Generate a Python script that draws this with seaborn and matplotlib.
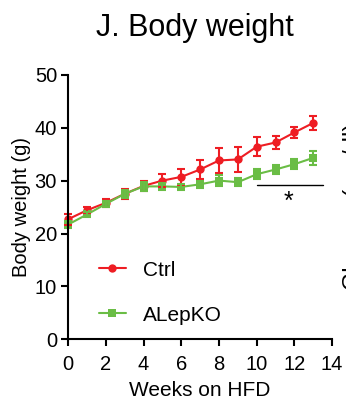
import numpy as np
import pandas as pd
import matplotlib
matplotlib.use("Agg")
import matplotlib.pyplot as plt
import seaborn as sns

# body weight (g) over 14 weeks of HFD, mean +/- sem
weeks = list(range(14))
ctrl_mean = [22.7, 24.4, 25.8, 27.5, 29.0, 30.0, 30.7, 32.1, 33.8, 34.0, 36.4, 37.2, 39.1, 40.9]
ctrl_sem = [1.0, 0.6, 0.8, 1.0, 1.0, 1.3, 1.5, 1.8, 2.3, 2.3, 1.8, 1.3, 1.0, 1.3]
ko_mean = [21.7, 23.6, 25.6, 27.5, 28.9, 28.9, 28.8, 29.3, 30.0, 29.7, 31.2, 32.1, 33.1, 34.3]
ko_sem = [0.7, 0.5, 0.6, 0.8, 0.8, 0.6, 0.6, 0.7, 1.0, 0.7, 0.9, 0.9, 1.0, 1.3]

groups = ["Ctrl", "ALepKO"]
colors = {"Ctrl": "#EE1D23", "ALepKO": "#6ABD45"}
markers = {"Ctrl": "o", "ALepKO": "s"}

df = pd.DataFrame({
    "week": weeks * 2,
    "weight": ctrl_mean + ko_mean,
    "sem": ctrl_sem + ko_sem,
    "group": ["Ctrl"] * 14 + ["ALepKO"] * 14,
})

sns.set_style("ticks")
plt.rcParams["font.family"] = ["Liberation Sans", "DejaVu Sans"]
plt.rcParams["text.color"] = "black"
plt.rcParams["axes.labelcolor"] = "black"

fig = plt.figure(figsize=(3.46, 4.04), dpi=100)
ax = fig.add_axes([0.197, 0.16, 0.763, 0.655])

sns.lineplot(data=df, x="week", y="weight", hue="group", style="group",
             palette=colors, markers=markers, dashes=False, markersize=6,
             markeredgewidth=0, linewidth=1.5, ax=ax)

for g in groups:
    sub = df[df["group"] == g]
    ax.errorbar(sub["week"], sub["weight"], yerr=sub["sem"], fmt="none",
                ecolor=colors[g], elinewidth=1.5, capsize=2.7, capthick=1.5)

# significance bar
ax.plot([10, 13.5], [29.2, 29.2], color="black", lw=1)
ax.text(11.7, 25.9, "*", ha="center", va="center", fontsize=18)

ax.set_xlim(0, 14)
ax.set_ylim(0, 50)
ax.set_xticks(range(0, 15, 2))
ax.set_yticks(range(0, 51, 10))
ax.tick_params(labelsize=14.5, width=1.5, length=5, pad=3,
               color="black", labelcolor="black")
ax.tick_params(axis="x", pad=6)
for s in ["left", "bottom"]:
    ax.spines[s].set_linewidth(1.5)
    ax.spines[s].set_color("black")
sns.despine(ax=ax)
ax.set_xlabel("Weeks on HFD", fontsize=15, labelpad=5)
ax.set_ylabel("Body weight (g)", fontsize=14.5, labelpad=3)
for c in ax.get_children():
    c.set_clip_on(False)

leg = ax.legend(title=None, frameon=False, fontsize=15, loc="lower left",
                bbox_to_anchor=(0.045, -0.015), handlelength=1.3, handletextpad=0.8,
                labelspacing=1.25)

fig.text(0.564, 0.93, "J. Body weight", ha="center", va="center", fontsize=22)

# neighbouring panel's axis label, cut off at the edge
fig.text(0.99, 0.49, "Glucose (mg/dl)", rotation=90, ha="left", va="center",
         fontsize=17)

fig.savefig("out.png", dpi=100)
